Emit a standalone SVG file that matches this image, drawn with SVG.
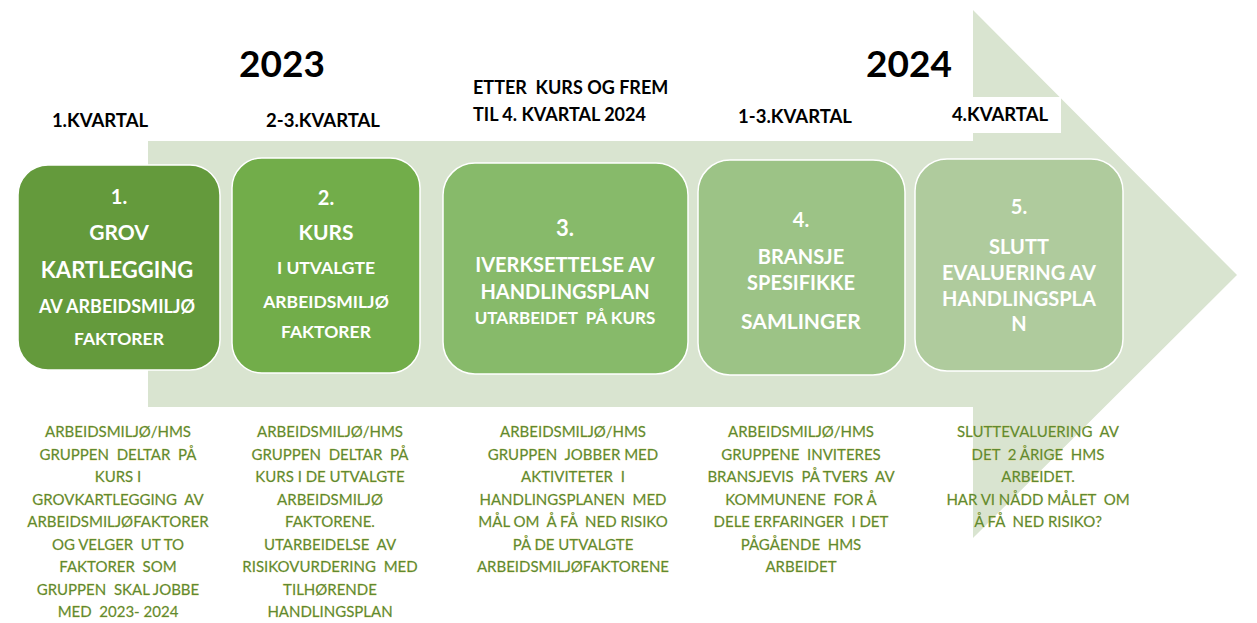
<svg xmlns="http://www.w3.org/2000/svg" width="1257" height="623" viewBox="0 0 1257 623">
<style>
.hd{font-family:Lato,"Liberation Sans",sans-serif;font-weight:bold;fill:#000;text-anchor:middle;white-space:pre}
.bx{font-family:Lato,"Liberation Sans",sans-serif;font-weight:bold;fill:#fff;text-anchor:middle;white-space:pre}
.ds{font-family:Lato,"Liberation Sans",sans-serif;font-size:15px;fill:#5e8a32;stroke:#d8c860;stroke-width:0.35px;paint-order:stroke;text-anchor:middle;white-space:pre}
.node rect{stroke:#ffffff;stroke-width:1.5}
</style>
<rect width="1257" height="623" fill="#fff"/>
<polygon points="148,141 973,141 973,10 1237,275 973,538 973,407 148,407" fill="#d9e4d0"/>
<rect x="973" y="97" width="88" height="36" fill="#fff"/>
<g id="headers">
<text class="hd" x="282" y="77" font-size="37">2023</text>
<text class="hd" x="909" y="77" font-size="37">2024</text>
<text class="hd" x="100" y="127" font-size="18.5">1.KVARTAL</text>
<text class="hd" x="323" y="127" font-size="18.5">2-3.KVARTAL</text>
<text class="hd" x="473" y="94" font-size="18" style="text-anchor:start">ETTER  KURS OG FREM</text>
<text class="hd" x="473" y="121" font-size="18" style="text-anchor:start">TIL 4. KVARTAL 2024</text>
<text class="hd" x="795" y="123" font-size="18.5">1-3.KVARTAL</text>
<text class="hd" x="1000" y="121" font-size="18.5">4.KVARTAL</text>
</g>
<g id="connectors"></g>
<g id="node1" class="node">
<rect x="18" y="165" width="202" height="205" rx="30" fill="#649a3c"/>
<text class="bx" x="119" y="204" font-size="20">1.</text>
<text class="bx" x="119" y="240" font-size="21">GROV</text>
<text class="bx" x="117" y="278" font-size="22">KARTLEGGING</text>
<text class="bx" x="117" y="313" font-size="18">AV ARBEIDSMILJØ</text>
<text class="bx" x="119" y="345" font-size="17.5">FAKTORER</text>
</g>
<g id="node2" class="node">
<rect x="232" y="158" width="188" height="215" rx="30" fill="#72ad4a"/>
<text class="bx" x="326" y="205" font-size="20">2.</text>
<text class="bx" x="326" y="240" font-size="21">KURS</text>
<text class="bx" x="326" y="274" font-size="17.5">I UTVALGTE</text>
<text class="bx" x="326" y="308" font-size="17.5">ARBEIDSMILJØ</text>
<text class="bx" x="326" y="338" font-size="17.5">FAKTORER</text>
</g>
<g id="node3" class="node">
<rect x="443" y="163" width="245" height="211" rx="32" fill="#87ba6a"/>
<text class="bx" x="565" y="236" font-size="22">3.</text>
<text class="bx" x="565" y="272" font-size="20">IVERKSETTELSE AV</text>
<text class="bx" x="565" y="299" font-size="20">HANDLINGSPLAN</text>
<text class="bx" x="565" y="324" font-size="17">UTARBEIDET  PÅ KURS</text>
</g>
<g id="node4" class="node">
<rect x="698" y="160" width="207" height="215" rx="32" fill="#9cc386"/>
<text class="bx" x="801" y="227" font-size="20">4.</text>
<text class="bx" x="801" y="264" font-size="20">BRANSJE</text>
<text class="bx" x="801" y="290" font-size="20">SPESIFIKKE</text>
<text class="bx" x="801" y="329" font-size="21">SAMLINGER</text>
</g>
<g id="node5" class="node">
<rect x="915" y="159" width="208" height="212" rx="32" fill="#afcb9d"/>
<text class="bx" x="1019" y="214" font-size="20">5.</text>
<text class="bx" x="1019" y="254" font-size="20">SLUTT</text>
<text class="bx" x="1019" y="280" font-size="20">EVALUERING AV</text>
<text class="bx" x="1019" y="306" font-size="20">HANDLINGSPLA</text>
<text class="bx" x="1019" y="331" font-size="20">N</text>
</g>
<g id="desc1">
<text class="ds" x="118" y="437">ARBEIDSMILJØ/HMS</text>
<text class="ds" x="118" y="459.5">GRUPPEN  DELTAR  PÅ</text>
<text class="ds" x="118" y="482">KURS I</text>
<text class="ds" x="118" y="504.5">GROVKARTLEGGING  AV</text>
<text class="ds" x="118" y="527">ARBEIDSMILJØFAKTORER</text>
<text class="ds" x="118" y="549.5">OG VELGER  UT TO</text>
<text class="ds" x="118" y="572">FAKTORER  SOM</text>
<text class="ds" x="118" y="594.5">GRUPPEN  SKAL JOBBE</text>
<text class="ds" x="118" y="617">MED  2023- 2024</text>
</g>
<g id="desc2">
<text class="ds" x="330" y="437">ARBEIDSMILJØ/HMS</text>
<text class="ds" x="330" y="459.5">GRUPPEN  DELTAR  PÅ</text>
<text class="ds" x="330" y="482">KURS I DE UTVALGTE</text>
<text class="ds" x="330" y="504.5">ARBEIDSMILJØ</text>
<text class="ds" x="330" y="527">FAKTORENE.</text>
<text class="ds" x="330" y="549.5">UTARBEIDELSE  AV</text>
<text class="ds" x="330" y="572">RISIKOVURDERING  MED</text>
<text class="ds" x="330" y="594.5">TILHØRENDE</text>
<text class="ds" x="330" y="617">HANDLINGSPLAN</text>
</g>
<g id="desc3">
<text class="ds" x="573" y="437">ARBEIDSMILJØ/HMS</text>
<text class="ds" x="573" y="459.5">GRUPPEN  JOBBER MED</text>
<text class="ds" x="573" y="482">AKTIVITETER  I</text>
<text class="ds" x="573" y="504.5">HANDLINGSPLANEN  MED</text>
<text class="ds" x="573" y="527">MÅL OM  Å FÅ  NED RISIKO</text>
<text class="ds" x="573" y="549.5">PÅ DE UTVALGTE</text>
<text class="ds" x="573" y="572">ARBEIDSMILJØFAKTORENE</text>
</g>
<g id="desc4">
<text class="ds" x="801" y="437">ARBEIDSMILJØ/HMS</text>
<text class="ds" x="801" y="459.5">GRUPPENE  INVITERES</text>
<text class="ds" x="801" y="482">BRANSJEVIS  PÅ TVERS  AV</text>
<text class="ds" x="801" y="504.5">KOMMUNENE  FOR Å</text>
<text class="ds" x="801" y="527">DELE ERFARINGER  I DET</text>
<text class="ds" x="801" y="549.5">PÅGÅENDE  HMS</text>
<text class="ds" x="801" y="572">ARBEIDET</text>
</g>
<g id="desc5">
<text class="ds" x="1038" y="437">SLUTTEVALUERING  AV</text>
<text class="ds" x="1038" y="459.5">DET  2 ÅRIGE  HMS</text>
<text class="ds" x="1038" y="482">ARBEIDET.</text>
<text class="ds" x="1038" y="504.5">HAR VI NÅDD MÅLET  OM</text>
<text class="ds" x="1038" y="527">Å FÅ  NED RISIKO?</text>
</g>
</svg>
